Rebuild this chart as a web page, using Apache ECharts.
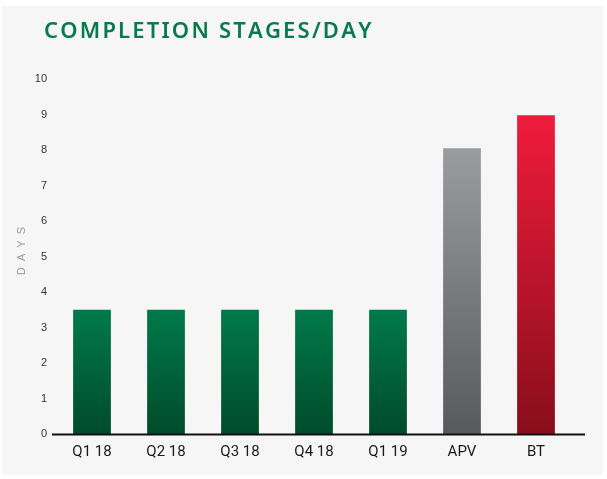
<!DOCTYPE html>
<html><head><meta charset="utf-8">
<script src="https://cdn.jsdelivr.net/npm/echarts@6/dist/echarts.min.js"></script>
<style>html,body{margin:0;padding:0;background:#fff}#c{width:607px;height:479px}</style>
</head><body><div id="c"></div>
<script>
var categories = ['Q1 18','Q2 18','Q3 18','Q4 18','Q1 19','APV','BT'];
var values = [3.5, 3.5, 3.5, 3.5, 3.5, 8.05, 8.98];
var kinds = ['green','green','green','green','green','gray','red'];
var yTicks = [0,1,2,3,4,5,6,7,8,9,10];
var yAxisTitle = 'D  A  Y  S';

var grads = {
  green: ['#00794b', '#004b2b'],
  gray: ['#9b9c9f', '#58595c'],
  red: ['#ef1b3b', '#880e1b']
};
function grad(k){
  return new echarts.graphic.LinearGradient(0,0,0,1,[{offset:0,color:grads[k][0]},{offset:1,color:grads[k][1]}]);
}
var titleText = 'COMPLETION STAGES/DAY'.split('').join('\u200A');
var chart = echarts.init(document.getElementById('c'), null, {renderer:'canvas'});
chart.setOption({
  animation:false,
  backgroundColor:'#ffffff',
  graphic:[
    {type:'rect', z:-10, shape:{x:2,y:6,width:601,height:469}, style:{fill:'#f6f6f6'}},
    {type:'line', z:10, shape:{x1:52,y1:434.5,x2:585,y2:434.5}, style:{stroke:'#111',lineWidth:2}},
    {type:'text', x:22, y:251, rotation:Math.PI/2,
     style:{text:yAxisTitle, fill:'#9a9a9a', fontSize:11, fontFamily:'Liberation Sans', align:'center', verticalAlign:'middle'}}
  ],
  title:{
    text:titleText,
    left:39, top:16,
    textStyle:{fontFamily:'Noto Sans', fontSize:22, fontWeight:600, color:'#087a4d'}
  },
  grid:{left:55, right:34, top:79, bottom:479-434},
  xAxis:{
    type:'category', data:categories,
    axisLine:{show:false}, axisTick:{show:false},
    axisLabel:{fontFamily:'Roboto', fontSize:15, color:'#1a1a1a', margin:11}
  },
  yAxis:{
    type:'value', min:0, max:10, interval:1,
    splitLine:{show:false}, axisLine:{show:false}, axisTick:{show:false},
    axisLabel:{fontFamily:'Liberation Sans', fontSize:11, color:'#333', margin:8,
      formatter:function(v){return yTicks.indexOf(v)>=0 ? String(v) : '';}}
  },
  series:[{
    type:'bar', barWidth:'51%',
    data: values.map(function(v,i){return {value:v, itemStyle:{color:grad(kinds[i])}};})
  }]
});
</script></body></html>
